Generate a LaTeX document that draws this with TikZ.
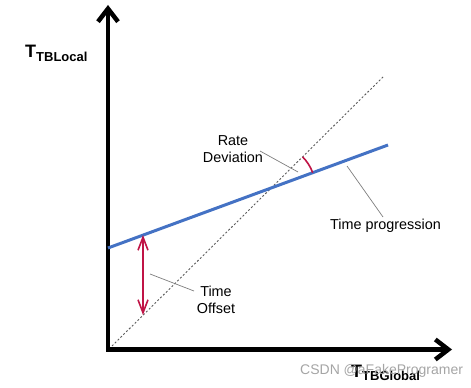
\documentclass[tikz,border=0pt]{standalone}
\usepackage{fontspec}
\setmainfont{Liberation Sans}
\usetikzlibrary{arrows.meta}
\definecolor{lineblue}{RGB}{68,114,196}
\definecolor{offsetred}{RGB}{192,20,70}
\definecolor{leadergray}{RGB}{125,125,125}
\definecolor{refgray}{RGB}{90,90,90}
\definecolor{wmgray}{RGB}{165,165,165}
\begin{document}
\begin{tikzpicture}[x=1pt,y=1pt,
  axisline/.style={line width=4.5pt, line join=miter,
    {Straight Barb[length=13pt,width=20pt]}-{Straight Barb[length=13pt,width=20pt]}},
  refline/.style={refgray, line width=0.9pt, dash pattern=on 2pt off 2pt},
  progline/.style={lineblue, line width=3pt},
  redmark/.style={offsetred, line width=1.6pt},
  redarrow/.style={redmark, {Straight Barb[length=13pt,width=10pt]}-{Straight Barb[length=13pt,width=10pt]}},
  leader/.style={leadergray, line width=0.7pt},
  lbl/.style={inner sep=0pt, font=\fontsize{14.4}{17}\selectfont},
  axlbl/.style={inner sep=0pt, anchor=base west, font=\fontsize{18}{18}\selectfont\bfseries},
  wmark/.style={inner sep=0pt, anchor=base west, text=wmgray, font=\fontsize{14}{14}\selectfont}]
\useasboundingbox (0,0) rectangle (471,388);
% axes
\coordinate (O) at (108,38.5);
\coordinate (ytop) at (108,383);
\coordinate (xend) at (452,38.5);
\draw[axisline] (ytop) -- (O) -- (xend);
% reference (dashed) line
\coordinate (d0) at (112,42);
\coordinate (d1) at (384,312);
\draw[refline] (d0) -- (d1);
% time progression line
\coordinate (b0) at (108,140);
\coordinate (b1) at (388,243);
\draw[progline] (b0) -- (b1);
% rate deviation arc
\coordinate (I) at (271.4,200.1);
\coordinate (arcstart) at (312.7,215.3);
\draw[redmark] (arcstart) arc[start angle=20.2, end angle=44.8, radius=44];
% time offset arrow
\coordinate (ra) at (143,153);
\coordinate (rb) at (143,73);
\draw[redarrow] (ra) -- (rb);
% labels
\node[lbl, align=center] (rate) at (233,238.6) {Rate\\Deviation};
\node[lbl, anchor=base] (prog) at (385.5,158) {Time progression};
\node[lbl, align=center] (offset) at (216,88.6) {Time\\Offset};
% leaders
\coordinate (l1a) at (260,237);
\coordinate (l1b) at (298,216);
\draw[leader] (l1a) -- (l1b);
\coordinate (l2a) at (347,222);
\coordinate (l2b) at (383,171);
\draw[leader] (l2a) -- (l2b);
\coordinate (l3a) at (150,114);
\coordinate (l3b) at (194,97);
\draw[leader] (l3a) -- (l3b);
% axis labels
\node[axlbl] (tloc) at (25,330) {T\raisebox{-4pt}{\fontsize{13}{13}\selectfont TBLocal}};
\node[axlbl] (tglob) at (351,10) {T\raisebox{-3pt}{\fontsize{13}{13}\selectfont TBGlobal}};
% watermark
\node[wmark] (wm) at (300,13) {CSDN @aFakeProgramer};
\end{tikzpicture}
\end{document}
